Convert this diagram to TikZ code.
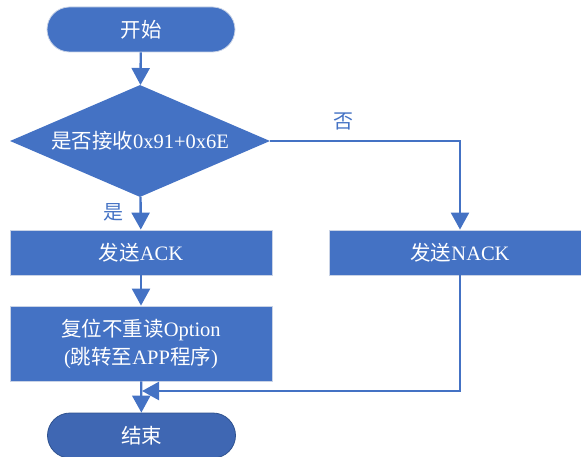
\documentclass[tikz,border=0pt]{standalone}
\usepackage{fontspec}
\setmainfont{Liberation Serif}
\newfontfamily\cjk{Noto Sans CJK SC}
\usetikzlibrary{shapes.geometric,arrows.meta}
\definecolor{flowblue}{HTML}{4472C4}
\definecolor{enddark}{HTML}{3F67B3}
\definecolor{endedge}{HTML}{2F528F}
\definecolor{paleedge}{HTML}{C9D3E6}
\tikzset{
  base/.style={fill=flowblue, text=white, font=\fontsize{20.5}{28}\selectfont, inner sep=0pt},
  terminal/.style={base, draw=paleedge, line width=0.8pt, rectangle, rounded corners=22.5pt,
    minimum width=188pt, minimum height=45pt},
  endterminal/.style={terminal, fill=enddark, draw=endedge},
  procbox/.style={base, draw=paleedge, line width=0.8pt, rectangle, minimum width=262pt,
    minimum height=45pt, align=center},
  decision/.style={base, diamond, minimum width=260pt, minimum height=112pt, aspect=2.32},
  flow/.style={draw=flowblue, line width=2.4pt, -{Triangle[width=18pt,length=17pt]}},
  lbl/.style={text=flowblue, font=\fontsize{20}{24}\selectfont\cjk, inner sep=0pt}
}
\begin{document}
\begin{tikzpicture}[x=1pt,y=-1pt]
  \useasboundingbox (0,0) rectangle (581,457);

  \node[terminal] (start) at (141,29.5) {\cjk 开始};
  \node[decision] (dec) at (140,141) {{\cjk 是否接收}0x91+0x6E};
  \node[procbox] (ack) at (141,252.5) {{\cjk 发送}ACK};
  \node[procbox] (nack) at (460,252.5) {{\cjk 发送}NACK};
  \node[procbox, minimum height=75pt] (opt) at (141,343.5)
    {{\cjk 复位不重读}Option\\({\cjk 跳转至}APP{\cjk 程序})};
  \node[endterminal] (end) at (141.5,435.5) {\cjk 结束};

  \coordinate (turn) at (460,141);
  \coordinate (back) at (460,391);
  \coordinate (join) at (142,391);

  \draw[flow] (start) -- (dec);
  \draw[flow] (dec) -- (ack);
  \draw[flow] (dec.east) -- (turn) -- (nack.north);
  \draw[flow] (ack) -- (opt);
  \draw[flow] (opt) -- (end);
  \draw[flow] (nack.south) -- (back) -- (join);

  \node[lbl] (yes) at (113,212) {是};
  \node[lbl] (no) at (343,121) {否};
\end{tikzpicture}
\end{document}
